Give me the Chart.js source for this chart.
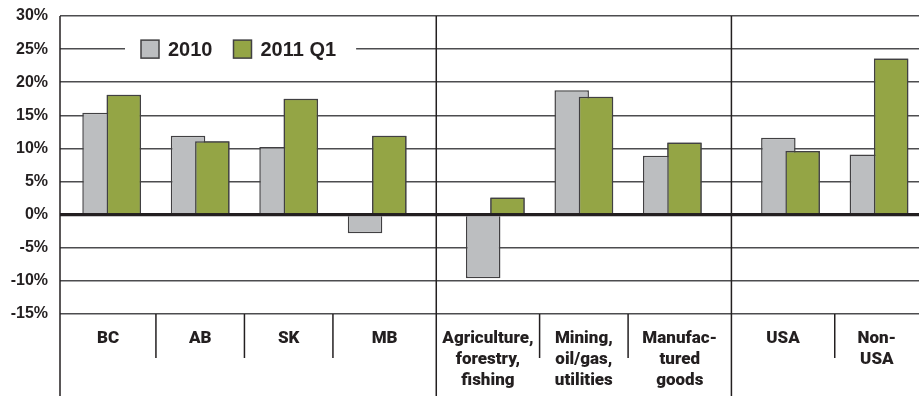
<!DOCTYPE html>
<html><head><meta charset="utf-8">
<script src="https://cdn.jsdelivr.net/npm/chart.js@4/dist/chart.umd.min.js"></script>
<style>html,body{margin:0;padding:0;background:#fff;}canvas{display:block;}</style>
</head><body>
<canvas id="c" width="919" height="396"></canvas>
<script>
// ---- data ----
const categories = ["BC", "AB", "SK", "MB",
  ["Agriculture,", "forestry,", "fishing"],
  ["Mining,", "oil/gas,", "utilities"],
  ["Manufac-", "tured", "goods"],
  "USA", ["Non-", "USA"]];
const groupSizes = [4, 3, 2];
const seriesNames = ["2010", "2011 Q1"];
const values2010   = [15.4, 11.9, 10.2, -2.8, -9.6, 18.8, 8.9, 11.6, 9.1];
const values2011Q1 = [18.1, 11.1, 17.5, 11.9, 2.6, 17.8, 10.9, 9.6, 23.6];
const yTicks = [-15, -10, -5, 0, 5, 10, 15, 20, 25, 30];

// ---- layout helpers ----
const GROUP_GAP = 0.335;
const LEFT_MARGIN = 0.584, RIGHT_MARGIN = 0.452;
const groupIndex = [];
groupSizes.forEach((n, g) => { for (let k = 0; k < n; k++) groupIndex.push(g); });
const pos = categories.map((_, i) => i + groupIndex[i] * GROUP_GAP);
const xMin = pos[0] - LEFT_MARGIN, xMax = pos[pos.length - 1] + RIGHT_MARGIN;
const bounds = [xMin];
for (let i = 1; i < pos.length; i++) bounds.push((pos[i - 1] + pos[i]) / 2);
bounds.push(xMax);
const labelPos = pos.map((_, i) => (bounds[i] + bounds[i + 1]) / 2);

const INK = '#231f20';
const GRAY = '#bcbec0', GREEN = '#94a545', EDGE = '#414042';
const tickFont = '"Liberation Sans", Arial, sans-serif';
const catFont = 'Roboto, "Liberation Sans", sans-serif';

const overlay = {
  id: 'overlay',
  afterDatasetsDraw(chart) {
    const { ctx, chartArea: a, scales: { x, y } } = chart;
    // green bars sit in front of the grey ones
    chart.getDatasetMeta(1).data.forEach(el => el.draw(ctx));
    ctx.save();
    // zero line
    const y0 = y.getPixelForValue(0);
    ctx.strokeStyle = INK; ctx.lineWidth = 3;
    ctx.beginPath(); ctx.moveTo(a.left, y0); ctx.lineTo(a.right, y0); ctx.stroke();
    // separators
    ctx.lineWidth = 1.5;
    for (let i = 0; i < pos.length; i++) {
      const px = x.getPixelForValue(bounds[i]);
      const isGroup = i === 0 || groupIndex[i] !== groupIndex[i - 1];
      ctx.beginPath();
      if (isGroup) { ctx.moveTo(px, a.top); ctx.lineTo(px, chart.height); }
      else { ctx.moveTo(px, a.bottom); ctx.lineTo(px, a.bottom + 44); }
      ctx.stroke();
    }
    // legend (inside plot, on the 25% line)
    const ly = y.getPixelForValue(25);
    ctx.font = 'bold 20px ' + tickFont;
    const box = 18, gapBT = 9, gapItems = 21, padL = 16, padR = 20;
    const ds = chart.data.datasets;
    const widths = ds.map(d => ctx.measureText(d.label).width);
    const total = padL + padR + widths.reduce((s, w) => s + box + gapBT + w, 0) + gapItems * (ds.length - 1);
    const lx = a.left + 65;
    ctx.fillStyle = '#fff';
    ctx.fillRect(lx, ly - 14, total, 28);
    let cx = lx + padL;
    ds.forEach((d, i) => {
      ctx.fillStyle = d.backgroundColor;
      ctx.fillRect(cx, ly - box / 2, box, box);
      ctx.strokeStyle = EDGE; ctx.lineWidth = 1.5;
      ctx.strokeRect(cx, ly - box / 2, box, box);
      cx += box + gapBT;
      ctx.fillStyle = INK; ctx.textBaseline = 'middle'; ctx.textAlign = 'left';
      ctx.fillText(d.label, cx, ly + 1);
      cx += widths[i] + gapItems;
    });
    ctx.restore();
  }
};

const barOpts = { borderColor: EDGE, borderWidth: 1.5, categoryPercentage: 0.549, barPercentage: 1.42 };

new Chart(document.getElementById('c'), {
  type: 'bar',
  data: {
    datasets: [
      Object.assign({ label: seriesNames[0], backgroundColor: GRAY,
        data: values2010.map((v, i) => ({ x: pos[i], y: v })) }, barOpts),
      Object.assign({ label: seriesNames[1], backgroundColor: GREEN,
        data: values2011Q1.map((v, i) => ({ x: pos[i], y: v })) }, barOpts)
    ]
  },
  options: {
    responsive: false,
    animation: false,
    devicePixelRatio: 1,
    layout: { padding: { top: 16, right: 0, bottom: 0, left: 0 } },
    plugins: { legend: { display: false }, tooltip: { enabled: false } },
    scales: {
      x: {
        type: 'linear', min: xMin, max: xMax, bounds: 'data', offset: false,
        afterBuildTicks: s => { s.ticks = labelPos.map(v => ({ value: v })); },
        afterFit: s => { s.height = 82; },
        grid: { display: false, drawTicks: false },
        border: { display: false },
        ticks: {
          autoSkip: false, maxRotation: 0, minRotation: 0, padding: 14, color: INK,
          font: { family: catFont, size: 17, weight: 900, lineHeight: 1.235 },
          callback: (v, i) => categories[i]
        }
      },
      y: {
        min: yTicks[0], max: yTicks[yTicks.length - 1],
        afterBuildTicks: s => { s.ticks = yTicks.map(v => ({ value: v })); },
        afterFit: s => { s.width = 60; },
        border: { display: false },
        grid: {
          drawTicks: true, tickLength: 12, tickColor: 'rgba(0,0,0,0)',
          color: c => c.tick && c.tick.value === 0 ? INK : '#4d4d4f',
          lineWidth: c => c.tick && c.tick.value === 0 ? 3 : 1.5
        },
        ticks: {
          padding: 0, color: INK,
          font: { family: tickFont, size: 16, weight: 'bold' },
          callback: v => v + '%'
        }
      }
    }
  },
  plugins: [overlay]
});
</script>
</body></html>
